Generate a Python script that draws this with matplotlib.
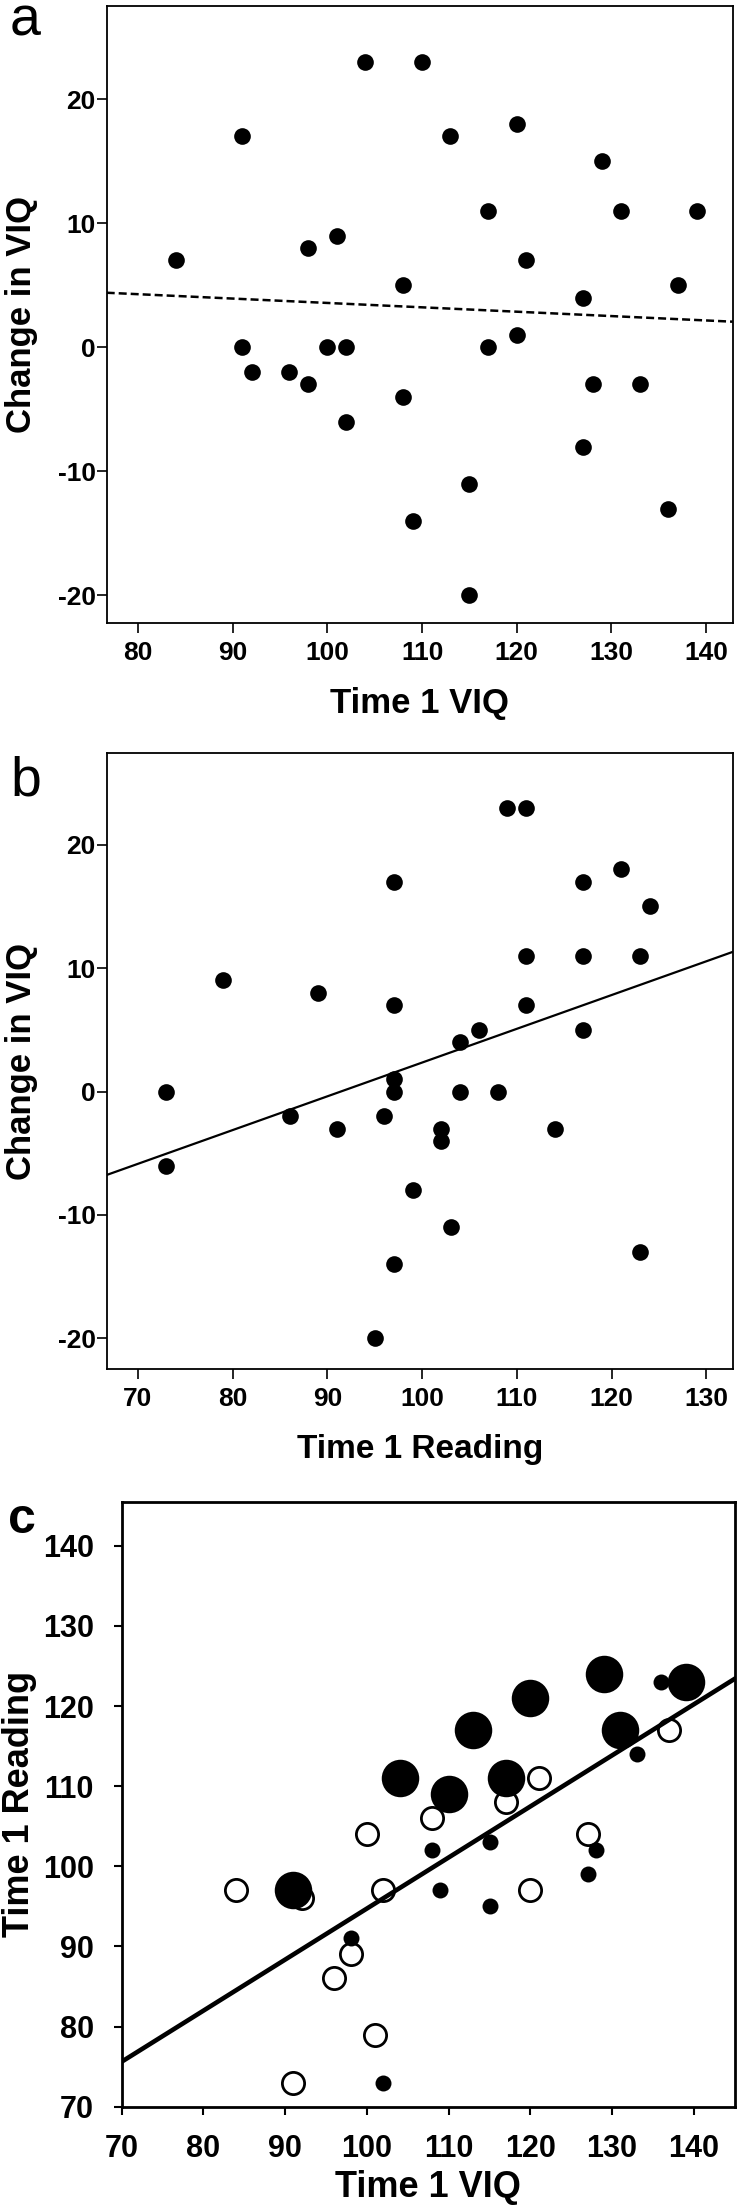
import numpy as np
import matplotlib
matplotlib.use('Agg')
from matplotlib import pyplot as plt

plt.rcParams['font.family'] = ['Liberation Sans', 'DejaVu Sans']
plt.rcParams['axes.unicode_minus'] = False

############ DATA (one entry per child)
viq = [84, 91, 91, 92, 96, 98, 98, 100, 101, 102, 102, 104, 108, 108, 109, 110, 113,
       115, 115, 117, 117, 120, 120, 121, 127, 127, 128, 129, 131, 133, 136, 137, 139]
change_viq = [7, 17, 0, -2, -2, 8, -3, 0, 9, 0, -6, 23, 5, -4, -14, 23, 17,
              -11, -20, 11, 0, 18, 1, 7, 4, -8, -3, 15, 11, -3, -13, 5, 11]
reading = [97, 97, 73, 96, 86, 89, 91, 104, 79, 97, 73, 111, 106, 102, 97, 109, 117,
           103, 95, 111, 108, 121, 97, 111, 104, 99, 102, 124, 117, 114, 123, 117, 123]
group = ['open', 'large', 'open', 'open', 'open', 'open', 'small', 'open', 'open', 'open',
         'small', 'large', 'open', 'small', 'small', 'large', 'large', 'small', 'small',
         'large', 'open', 'large', 'open', 'open', 'open', 'small', 'small', 'large',
         'large', 'small', 'small', 'open', 'large']

xticks_a = [80, 90, 100, 110, 120, 130, 140]
xticks_b = [70, 80, 90, 100, 110, 120, 130]
yticks_ab = [-20, -10, 0, 10, 20]
ticks_c = [70, 80, 90, 100, 110, 120, 130, 140]

viq = np.array(viq)
change_viq = np.array(change_viq)
reading = np.array(reading)
group = np.array(group)

W, H = 739, 2210
fig = plt.figure(figsize=(W / 100, H / 100), dpi=100)


def px_axes(left, top, right, bottom):
    return fig.add_axes([left / W, 1 - bottom / H, (right - left) / W, (bottom - top) / H])


def place_ylabel(ax, x_px, left, right):
    # centre the rotated label at a given pixel column
    ax.yaxis.set_label_coords((x_px - left) / (right - left), 0.5)
    ax.yaxis.label.set_verticalalignment('center')


def style_ab(ax):
    for s in ax.spines.values():
        s.set_linewidth(1.3)
    ax.tick_params(direction='out', length=7, width=1.2, labelsize=19, pad=1)
    ax.tick_params(axis='x', pad=6)
    for lab in ax.get_xticklabels() + ax.get_yticklabels():
        lab.set_fontweight('bold')


############ (a) change in VIQ vs time 1 VIQ
ax1 = px_axes(106.7, 6, 732.7, 622.7)
ax1.plot(viq, change_viq, 'o', color='black', ms=12, mec='none', zorder=3)
m, b = np.polyfit(viq, change_viq, 1)
ax1.axline((0, b), slope=m, color='black', lw=1.8, ls=(0, (3.2, 1.6)), zorder=2)
ax1.set_xlim(76.7, 142.8)
ax1.set_ylim(-22.2, 27.5)
ax1.set_xticks(xticks_a)
ax1.set_yticks(yticks_ab)
style_ab(ax1)
ax1.set_xlabel('Time 1 VIQ', fontsize=25, fontweight='bold', labelpad=16)
ax1.set_ylabel('Change in VIQ', fontsize=25, fontweight='bold')
place_ylabel(ax1, 21, 106.7, 732.7)
fig.text(10 / W, 1 - 35 / H, 'a', fontsize=40, va='baseline', ha='left')

############ (b) change in VIQ vs time 1 reading
ax2 = px_axes(106.7, 753.3, 733, 1369.3)
ax2.plot(reading, change_viq, 'o', color='black', ms=12, mec='none', zorder=3)
m, b = np.polyfit(reading, change_viq, 1)
ax2.axline((0, b), slope=m, color='black', lw=1.6, zorder=2)
ax2.set_xlim(66.7, 132.8)
ax2.set_ylim(-22.5, 27.4)
ax2.set_xticks(xticks_b)
ax2.set_yticks(yticks_ab)
style_ab(ax2)
ax2.set_xlabel('Time 1 Reading', fontsize=24, fontweight='bold', labelpad=16)
ax2.set_ylabel('Change in VIQ', fontsize=25, fontweight='bold')
place_ylabel(ax2, 21, 106.7, 733)
fig.text(10 / W, 1 - 795 / H, 'b', fontsize=40, va='baseline', ha='left')

############ (c) time 1 reading vs time 1 VIQ, marker by change group
ax3 = px_axes(121.7, 1501.7, 734.7, 2106.7)
sel = group == 'open'
ax3.plot(viq[sel], reading[sel], 'o', mfc='white', mec='black', ms=16, mew=2, zorder=3)
sel = group == 'small'
ax3.plot(viq[sel], reading[sel], 'o', color='black', ms=11.5, mec='none', zorder=4)
sel = group == 'large'
ax3.plot(viq[sel], reading[sel], 'o', color='black', ms=27, mec='none', zorder=5)
m, b = np.polyfit(viq, reading, 1)
ax3.axline((0, b), slope=m, color='black', lw=3.3, zorder=6)
ax3.set_xlim(70, 145)
ax3.set_ylim(70, 145.5)
ax3.set_xticks(ticks_c)
ax3.set_yticks(ticks_c)
for s in ax3.spines.values():
    s.set_linewidth(2)
ax3.tick_params(direction='out', length=6, width=1.5, labelsize=22, pad=14)
for lab in ax3.get_xticklabels() + ax3.get_yticklabels():
    lab.set_fontweight('bold')
ax3.set_xlabel('Time 1 VIQ', fontsize=26, fontweight='bold', labelpad=4)
ax3.set_ylabel('Time 1 Reading', fontsize=26, fontweight='bold')
place_ylabel(ax3, 20, 121.7, 734.7)
fig.text(8 / W, 1 - 1533 / H, 'c', fontsize=36, fontweight='bold', va='baseline', ha='left')

plt.savefig('out.png', dpi=100)
